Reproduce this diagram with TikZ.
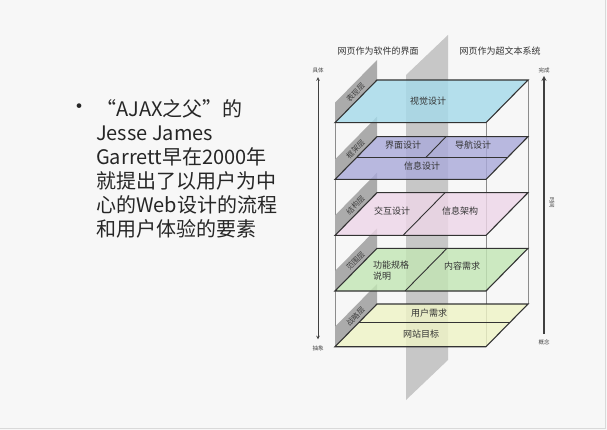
\documentclass[tikz,border=0pt]{standalone}
\usepackage{fontspec}
\setmainfont{Noto Sans CJK SC}
\usetikzlibrary{arrows.meta}

\definecolor{pagebg}{HTML}{F7F7F7}
\definecolor{visualblue}{HTML}{A4DAEA}
\definecolor{framepurple}{HTML}{A9A9DA}
\definecolor{structpink}{HTML}{EED6E8}
\definecolor{scopegreen}{HTML}{C2E6B4}
\definecolor{stratyellow}{HTML}{EFF4C6}

\begin{document}
\begin{tikzpicture}[x=1pt, y=-1pt,
        layer/.style={draw=black!80, line width=1.1pt, fill opacity=0.8},
        split/.style={draw=black!80, line width=0.9pt},
        strip/.style={fill=black!33},
        striplabel/.style={rotate=45, font=\fontsize{7.5}{8}\selectfont, text=black!75, inner sep=0pt},
        cell/.style={font=\fontsize{9}{10.5}\selectfont, text=black!80, inner sep=0pt},
        tiny/.style={font=\fontsize{5.5}{6}\selectfont, text=black!75, inner sep=0pt},
        axis/.style={<->, >=stealth, line width=0.6pt, black!75}
    ]
    \useasboundingbox (0,0) rectangle (607,430);
    \fill[pagebg] (0,0) rectangle (607,430);
    \draw[black!15, line width=1pt] (605,0) -- (605,428) -- (0,428);

    % --- left text ---
    \node[font=\fontsize{22}{22}\selectfont, inner sep=0pt, text=black!85] (dot) at (79,109) {•};
    \node[anchor=base west, align=left, inner sep=0pt,
          font=\fontsize{20}{24}\selectfont, text=black!85] (intro) at (96,236.5)
        {“AJAX之父”的\\Jesse James\\Garrett早在2000年\\就提出了以用户为中\\心的Web设计的流程\\和用户体验的要素};

    % --- middle plane ---
    \fill[black!22] (406,75) -- (448,35) -- (448,360) -- (406,400) -- cycle;
    \node[cell] (softview) at (378,50.7) {网页作为软件的界面};
    \node[cell] (hyperview) at (500,50.7) {网页作为超文本系统};

    % --- frame lines ---
    \draw[black!45, line width=0.6pt] (335,122.7) -- (335,346.7);
    \draw[black!45, line width=0.6pt] (486,122.7) -- (486,346.7);
    \draw[black!45, line width=0.6pt] (528,80) -- (528,304);

    % --- side strips ---
    \foreach [count=\i] \t/\txt in {80/表现层, 136.7/框架层, 192.7/结构层, 248.3/范围层, 304/战略层} {
        \fill[strip] (335,\t+42.7) -- (377,\t) -- (377,\t-20) -- (335,\t+22.7) -- cycle;
        \node[striplabel] (side\i) at (355.5,\t+12.5) {\txt};
    }

    % --- planes ---
    \foreach \t/\col in {80/visualblue, 136.7/framepurple, 192.7/structpink, 248.3/scopegreen, 304/stratyellow}
        \draw[layer, fill=\col] (335,\t+42.7) -- (486,\t+42.7) -- (528,\t) -- (377,\t) -- cycle;
    \draw[split] (356.7,157.3) -- (507.7,157.3);
    \draw[split] (446,136.7) -- (426,157.3);
    \draw[split] (445,192.7) -- (403,235.4);
    \draw[split] (447,248.3) -- (405,291);
    \draw[split] (358.6,322.7) -- (509.6,322.7);

    \node[cell] (visual) at (428,100.7) {视觉设计};
    \node[cell] (interface) at (403,145) {界面设计};
    \node[cell] (navigation) at (473,145) {导航设计};
    \node[cell] (infodesign) at (422,166) {信息设计};
    \node[cell] (interaction) at (392,211) {交互设计};
    \node[cell] (infoarch) at (460,211.5) {信息架构};
    \node[cell, align=left, anchor=west] (funcspec) at (373,270.5) {功能规格\\说明};
    \node[cell] (content) at (462,266.5) {内容需求};
    \node[cell] (userneeds) at (429,312.7) {用户需求};
    \node[cell] (siteobj) at (421,334) {网站目标};

    % --- axes ---
    \node[tiny] (concrete) at (318,70.5) {具体};
    \node[tiny] (abstract) at (318,348) {抽象};
    \draw[axis, shorten <=4pt, shorten >=6pt] (concrete) -- (abstract);
    \node[tiny] (complete) at (544,70) {完成};
    \node[tiny] (concept) at (544,342) {概念};
    \draw[->, >=stealth, line width=1.3pt, black!75, shorten <=5pt, shorten >=3pt] (concept) -- (complete);
    \node[tiny, rotate=-90] (time) at (552,203) {时间};
\end{tikzpicture}
\end{document}
